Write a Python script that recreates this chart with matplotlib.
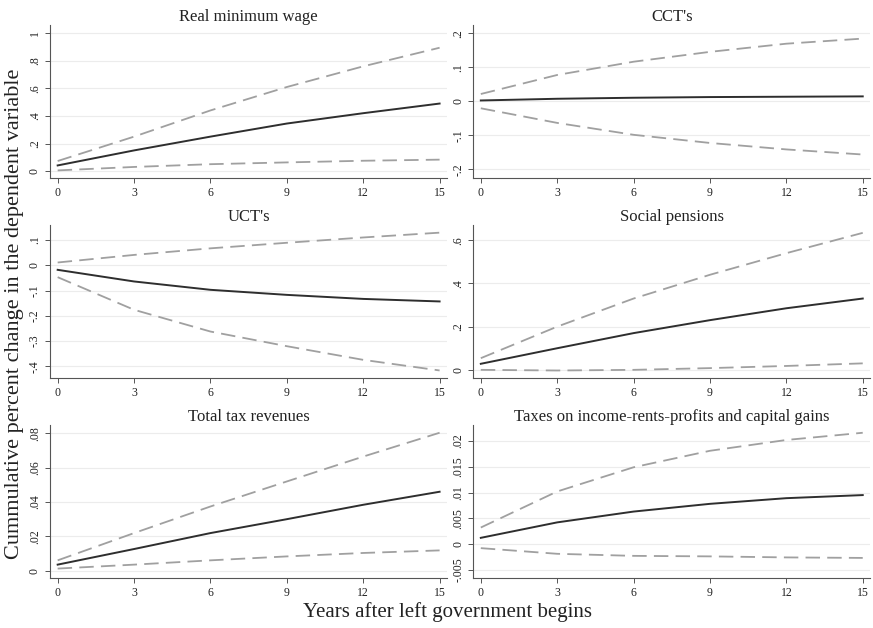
import matplotlib.pyplot as plt
from matplotlib.ticker import FuncFormatter

plt.rcParams['font.family'] = ['Liberation Serif', 'DejaVu Serif']

years = [0, 3, 6, 9, 12, 15]

titles = ["Real minimum wage", "CCT's", "UCT's", "Social pensions",
          "Total tax revenues", "Taxes on income-rents-profits and capital gains"]

# point estimate, upper and lower bound for each panel
mid = [
    [0.041, 0.15, 0.25, 0.345, 0.42, 0.49],
    [0.003, 0.008, 0.011, 0.013, 0.014, 0.015],
    [-0.018, -0.064, -0.097, -0.117, -0.133, -0.143],
    [0.028, 0.10, 0.17, 0.23, 0.285, 0.33],
    [0.0035, 0.0126, 0.0219, 0.030, 0.0384, 0.046],
    [0.0012, 0.0042, 0.0063, 0.0078, 0.0089, 0.0095],
]
upper = [
    [0.073, 0.25, 0.44, 0.61, 0.76, 0.895],
    [0.022, 0.078, 0.117, 0.146, 0.17, 0.185],
    [0.011, 0.041, 0.067, 0.089, 0.11, 0.129],
    [0.054, 0.20, 0.33, 0.44, 0.54, 0.634],
    [0.006, 0.0219, 0.0374, 0.052, 0.0665, 0.0804],
    [0.0032, 0.0102, 0.0149, 0.0181, 0.0202, 0.0216],
]
lower = [
    [0.005, 0.03, 0.05, 0.063, 0.075, 0.083],
    [-0.02, -0.063, -0.098, -0.122, -0.141, -0.156],
    [-0.047, -0.176, -0.262, -0.32, -0.374, -0.416],
    [0.0, -0.003, 0.0, 0.008, 0.018, 0.03],
    [0.0012, 0.0035, 0.006, 0.0083, 0.0103, 0.0118],
    [-0.0008, -0.0019, -0.0023, -0.0024, -0.0026, -0.0027],
]
yticks = [
    [0, 0.2, 0.4, 0.6, 0.8, 1],
    [-0.2, -0.1, 0, 0.1, 0.2],
    [-0.4, -0.3, -0.2, -0.1, 0, 0.1],
    [0, 0.2, 0.4, 0.6],
    [0, 0.02, 0.04, 0.06, 0.08],
    [-0.005, 0, 0.005, 0.01, 0.015, 0.02],
]
ylims = [(-0.05, 1.06), (-0.225, 0.225), (-0.446, 0.159), (-0.038, 0.67),
         (-0.0043, 0.0849), (-0.0066, 0.0231)]


def stata_fmt(v, pos):
    s = ('%.4f' % v).rstrip('0').rstrip('.')
    if s in ('-0', ''):
        s = '0'
    s = s.replace('0.', '.', 1) if s.startswith('0.') else s
    s = s.replace('-0.', '-.', 1)
    return s


fig = plt.figure(figsize=(8.73, 6.28), dpi=100)
lefts = [0.0573, 0.542]
bottoms = [0.7166, 0.398, 0.0796]
w, h = 0.455, 0.2436

for i in range(6):
    ax = fig.add_axes([lefts[i % 2], bottoms[i // 2], w, h])
    ax.plot(years, upper[i], color='#a0a0a0', lw=1.3, dashes=(8, 4))
    ax.plot(years, lower[i], color='#a0a0a0', lw=1.3, dashes=(8, 4))
    ax.plot(years, mid[i], color='#2e2e2e', lw=1.4)
    ax.set_xlim(-0.3, 15.3)
    ax.set_ylim(ylims[i])
    ax.set_xticks(years)
    ax.set_yticks(yticks[i])
    ax.yaxis.set_major_formatter(FuncFormatter(stata_fmt))
    ax.grid(axis='y', color='#ececec', lw=0.8)
    ax.set_axisbelow(True)
    for s in ['top', 'right']:
        ax.spines[s].set_visible(False)
    for s in ['left', 'bottom']:
        ax.spines[s].set_color('#555555')
        ax.spines[s].set_linewidth(0.8)
    ax.tick_params(axis='both', labelsize=8.5, length=3.5, width=0.7,
                   color='#555555', labelcolor='#222222', pad=3)
    for lab in ax.get_yticklabels():
        lab.set_rotation(90)
        lab.set_va('center')
    ax.set_title(titles[i], fontsize=12, pad=3, color='#222222')

fig.text(0.017, 0.5, 'Cummulative percent change in the dependent variable',
         rotation=90, va='center', ha='center', fontsize=16, color='#222222')
fig.text(0.513, 0.025, 'Years after left government begins',
         ha='center', va='center', fontsize=15, color='#222222')

fig.savefig('out.png', dpi=100)
